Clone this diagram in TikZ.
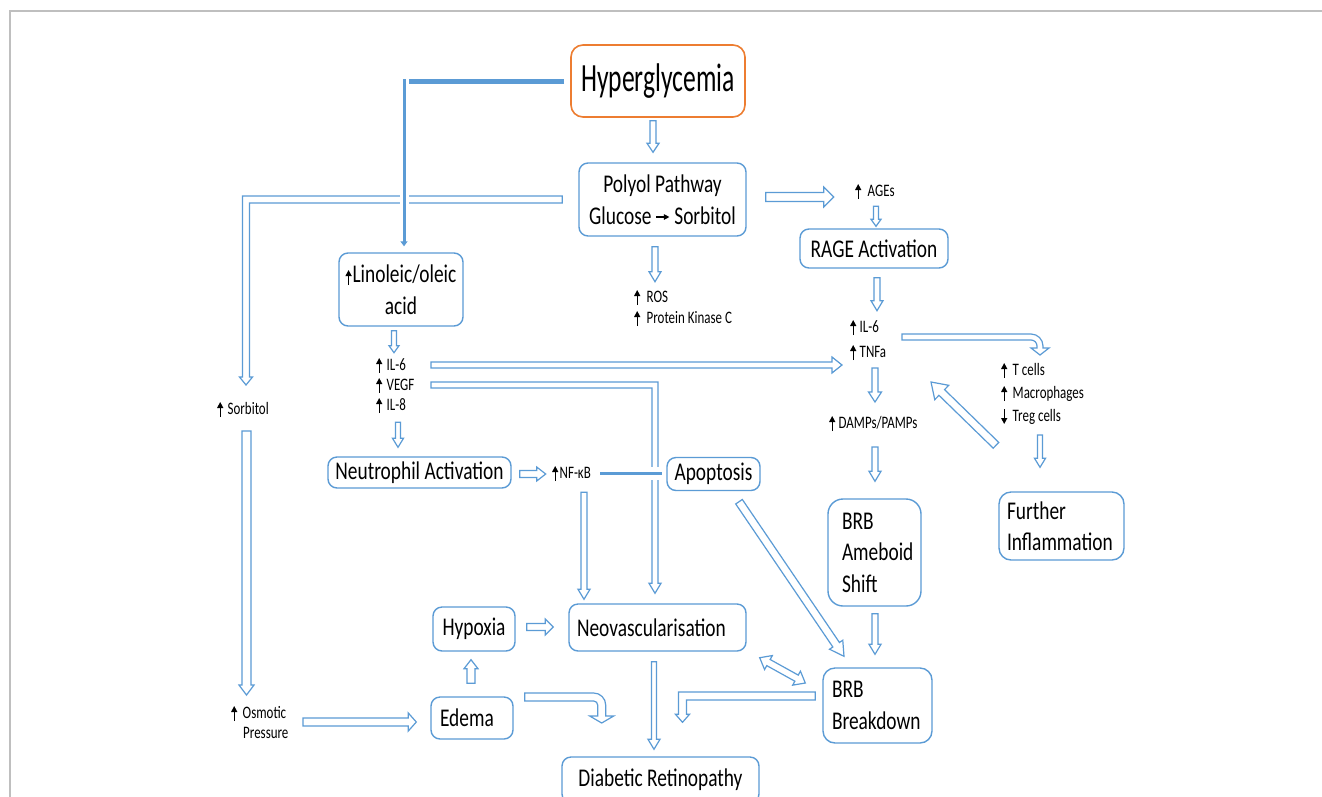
\documentclass[tikz,border=0pt]{standalone}
\usepackage{fontspec}
\setmainfont{Carlito}[FakeStretch=0.76]
\newfontfamily\hyfam{Carlito}[FakeStretch=0.64]
\newfontfamily\smfam{Carlito}[FakeStretch=0.74]
\usetikzlibrary{arrows.meta,calc}
\definecolor{bl}{HTML}{5B9BD5}
\definecolor{org}{HTML}{ED7D31}
\definecolor{frm}{HTML}{BFBFBF}
\hyphenpenalty=10000 \exhyphenpenalty=10000
\newcommand\bxf{\fontsize{25.5pt}{31.5pt}\selectfont}
\newcommand\smf{\smfam\fontsize{17.5pt}{20pt}\selectfont}
\newcommand\upar[1][5pt]{\tikz[baseline=0pt]{\path (-3pt,0pt) (3pt,0pt);\draw[draw=black,line width=1.3pt,-{Triangle[length=6pt,width=6pt]}] (0pt,-2.5pt)--(0pt,12.5pt);}\hspace{#1}}
\newcommand\dnar[1][5pt]{\tikz[baseline=0pt]{\path (-3pt,0pt) (3pt,0pt);\draw[draw=black,line width=1.3pt,-{Triangle[length=6pt,width=6pt]}] (0pt,12.5pt)--(0pt,-2.5pt);}\hspace{#1}}
\newcommand\rtar{\tikz[baseline=0pt]{\draw[draw=black,line width=1.1pt,-{Triangle[length=5.5pt,width=5.5pt]}] (0pt,7pt)--(13pt,7pt);}}
% straight block arrow: from, to, shaft half width, head half width, head length
\newcommand\barrow[5]{%
  \coordinate (bac) at ($(#2)!#5!(#1)$);
  \draw[blockarrow] ($(#1)!#3!90:(#2)$) -- ($(bac)!#3!-90:(#1)$) -- ($(bac)!#4!-90:(#1)$) -- (#2) -- ($(bac)!#4!90:(#1)$) -- ($(bac)!#3!90:(#1)$) -- ($(#1)!#3!-90:(#2)$) -- cycle;}
% double headed block arrow
\newcommand\dbarrow[5]{%
  \coordinate (dba) at ($(#1)!#5!(#2)$);
  \coordinate (dbb) at ($(#2)!#5!(#1)$);
  \draw[blockarrow] (#1) -- ($(dba)!#4!90:(#2)$) -- ($(dba)!#3!90:(#2)$) -- ($(dbb)!#3!-90:(#1)$) -- ($(dbb)!#4!-90:(#1)$) -- (#2) -- ($(dbb)!#4!90:(#1)$) -- ($(dbb)!#3!90:(#1)$) -- ($(dba)!#3!-90:(#2)$) -- ($(dba)!#4!-90:(#2)$) -- cycle;}
% bent block arrow: from, to, sx, sy, w, H, L (horizontal first, then vertical)
\newcommand\bentarrow[7]{%
  \draw[blockarrow] ($(#1)+(0,{-(#4)*(#5)})$) -- ($(#2|-#1)+({(#3)*(#5)},{-(#4)*(#5)})$) -- ($(#2)+({(#3)*(#5)},{-(#4)*(#7)})$) -- ($(#2)+({(#3)*(#6)},{-(#4)*(#7)})$) -- (#2) -- ($(#2)+({-(#3)*(#6)},{-(#4)*(#7)})$) -- ($(#2)+({-(#3)*(#5)},{-(#4)*(#7)})$) -- ($(#2|-#1)+({-(#3)*(#5)},{(#4)*(#5)})$) -- ($(#1)+(0,{(#4)*(#5)})$) -- cycle;}
\begin{document}
\begin{tikzpicture}[x=1pt,y=-1pt,
  rbox/.style={draw=bl, line width=1.4pt, rounded corners=9pt, fill=white, inner sep=0pt, font=\bxf},
  hbox/.style={draw=org, line width=1.6pt, rounded corners=12pt, fill=white, inner sep=0pt, minimum width=174pt, minimum height=72pt, font=\hyfam\fontsize{40pt}{44pt}\selectfont},
  txt/.style={inner sep=0pt, font=\smf, anchor=base west},
  blockarrow/.style={draw=bl, line width=1.2pt, fill=white, line join=miter},
  inhib/.style={draw=bl}]
\useasboundingbox (0,0) rectangle (1322,796);
\fill[white] (0,0) rectangle (1322,796);
\draw[frm, line width=1.5pt] (10,800) -- (10,11) -- (1325,11);

% boxes
\node[hbox] (hyper) at (658,81) {Hyperglycemia};
\node[rbox, minimum width=167pt, minimum height=73pt, align=center] (polyol) at (662.5,199.5) {Polyol Pathway\\Glucose \rtar{} Sorbitol};
\node[rbox, minimum width=148pt, minimum height=39pt] (rage) at (874,248.5) {RAGE Activation};
\node[rbox, minimum width=124pt, minimum height=73pt, align=center] (lino) at (401,289.5) {\upar[1pt]Linoleic/oleic\\acid};
\node[rbox, minimum width=183pt, minimum height=31pt] (neut) at (419.5,472.5) {Neutrophil Activation};
\node[rbox, minimum width=93pt, minimum height=33pt] (apop) at (713.5,474) {Apoptosis};
\node[rbox, rounded corners=15pt, minimum width=93pt, text width=65pt, inner xsep=14pt, minimum height=107pt, align=left] (brbam) at (874.5,552.5) {BRB\\Ameboid\\Shift};
\node[rbox, rounded corners=12pt, minimum width=125pt, text width=109pt, inner xsep=8pt, minimum height=68pt, align=left] (further) at (1061.5,526) {Further\\Inflammation};
\node[rbox, minimum width=82pt, minimum height=44pt] (hypoxia) at (474,629) {Hypoxia};
\node[rbox, minimum width=177pt, text width=161pt, inner xsep=8pt, minimum height=47pt, align=left] (neo) at (657.5,627.5) {Neovascularisation};
\node[rbox, minimum width=82pt, text width=64pt, inner xsep=9pt, minimum height=42pt, align=left] (edema) at (472,718) {Edema};
\node[rbox, rounded corners=12pt, minimum width=109pt, text width=91pt, inner xsep=9pt, minimum height=75pt, align=left] (brbbr) at (877.5,705.5) {BRB\\Breakdown};
\node[rbox, minimum width=197pt, minimum height=46pt] (dr) at (660.5,780) {Diabetic Retinopathy};

% small texts
\node[txt] (ros) at (634,302.5) {\upar[6.5pt]ROS};
\node[txt] (pkc) at (634,323.5) {\upar[6.5pt]Protein Kinase C};
\node[txt] (ages) at (855,196.5) {\upar[6.5pt]AGEs};
\node[txt] (il6r) at (850,332.5) {\upar[3.5pt]IL-6};
\node[txt] (tnf) at (850,357.5) {\upar[3.5pt]TNFa};
\node[txt] (tcell) at (1001,375.5) {\upar[5.5pt]T cells};
\node[txt] (macro) at (1001,398.5) {\upar[5.5pt]Macrophages};
\node[txt] (treg) at (1001,421.5) {\dnar[5.5pt]Treg cells};
\node[txt] (damps) at (829,428.5) {\upar[3.5pt]DAMPs/PAMPs};
\node[txt] (il6l) at (376,370.5) {\upar[4.5pt]IL-6};
\node[txt] (vegf) at (376,390.5) {\upar[4.5pt]VEGF};
\node[txt] (il8) at (376,410.5) {\upar[4.5pt]IL-8};
\node[txt] (nfkb) at (552,478.5) {\upar[1.5pt]NF-κB};
\node[txt] (sorb) at (217,414.5) {\upar[4.5pt]Sorbitol};
\node[txt] (osm) at (231,718.5) {\upar[5.5pt]Osmotic};
\node[txt] (press) at (243,738.5) {Pressure};

% connector end points
\coordinate (c1a) at ($(hyper.south)+(-5,3)$);
\coordinate (c1b) at ($(polyol.north)+(-9.5,-10)$);
\coordinate (c2a) at ($(polyol.south)+(-7.5,10)$);
\coordinate (c2b) at ($(polyol.south)+(-7.5,45)$);
\coordinate (c3a) at ($(polyol.east)+(19,-2.5)$);
\coordinate (c3b) at ($(polyol.east)+(87,-2.5)$);
\coordinate (c4a) at ($(rage.north)+(2,-22)$);
\coordinate (c4b) at ($(rage.north)+(2,-2)$);
\coordinate (c5a) at ($(rage.south)+(3,9)$);
\coordinate (c5b) at ($(rage.south)+(3,42)$);
\coordinate (c6a) at ($(lino.south)+(-7,4)$);
\coordinate (c6b) at ($(lino.south)+(-7,26)$);
\coordinate (c7a) at ($(neut.north)+(-21.5,-34)$);
\coordinate (c7b) at ($(neut.north)+(-21.5,-9)$);
\coordinate (c8a) at ($(neut.east)+(8,1.5)$);
\coordinate (c8b) at ($(neut.east)+(34,1.5)$);
\coordinate (c9a) at ($(neo.north)+(-73.5,-111)$);
\coordinate (c9b) at ($(neo.north)+(-73.5,-4)$);
\coordinate (c10a) at (431,365);
\coordinate (c10b) at (842,365);
\coordinate (v1) at (431,385);
\coordinate (v2) at ($(neo.north)+(-2.5,-10)$);
\coordinate (c12a) at (875,368);
\coordinate (c12b) at (875,402);
\coordinate (c13a) at (875,447);
\coordinate (c13b) at ($(brbam.north)+(0.5,-17)$);
\coordinate (c14) at (902,337);
\coordinate (c15a) at (1040,435);
\coordinate (c15b) at ($(further.north)+(-21.5,-24)$);
\coordinate (c16a) at ($(further.north)+(-65.5,-46)$);
\coordinate (c16b) at (931,382);
\coordinate (c17a) at ($(apop.south)+(25.5,10.5)$);
\coordinate (c17b) at ($(brbbr.north)+(-33.5,-11)$);
\coordinate (c18a) at ($(brbam.south)+(0.5,7)$);
\coordinate (c18b) at ($(brbbr.north)+(-2.5,-13)$);
\coordinate (c19a) at ($(neo.south east)+(13,6)$);
\coordinate (c19b) at ($(brbbr.west)+(-17,-22.5)$);
\coordinate (c20a) at ($(hypoxia.east)+(11,-2)$);
\coordinate (c20b) at ($(neo.west)+(-15,-0.5)$);
\coordinate (c21a) at ($(edema.north)+(-1,-13)$);
\coordinate (c21b) at ($(hypoxia.south)+(-3,8)$);
\coordinate (c22) at ($(edema.east)+(11,-21)$);
\coordinate (c23a) at ($(neo.south)+(-3.5,10)$);
\coordinate (c23b) at ($(dr.north)+(-6.5,-7)$);
\coordinate (b24a) at ($(brbbr.west)+(-7,-9.5)$);
\coordinate (b24b) at ($(dr.north)+(22,-34)$);
\coordinate (b25a) at ($(polyol.west)+(-16,0)$);
\coordinate (b25b) at (246,385);
\coordinate (c26a) at (246.5,431);
\coordinate (c26b) at (246.5,695);
\coordinate (c27a) at (303,722);
\coordinate (c27b) at ($(edema.west)+(-14,4)$);

% block arrows
\barrow{c1a}{c1b}{3pt}{6pt}{9pt}
\barrow{c2a}{c2b}{3pt}{6pt}{10pt}
\barrow{c3a}{c3b}{4.5pt}{10pt}{10pt}
\barrow{c4a}{c4b}{2.5pt}{5pt}{7pt}
\barrow{c5a}{c5b}{3pt}{6pt}{10pt}
\barrow{c6a}{c6b}{2.5pt}{5pt}{7pt}
\barrow{c7a}{c7b}{2.5pt}{5.5pt}{9pt}
\barrow{c8a}{c8b}{3.5pt}{7pt}{9pt}
\barrow{c9a}{c9b}{3pt}{6pt}{10pt}
\barrow{c10a}{c10b}{3pt}{8pt}{10pt}
\bentarrow{v1}{v2}{1}{1}{3}{6}{10}
\barrow{c12a}{c12b}{3pt}{6.5pt}{10pt}
\barrow{c13a}{c13b}{3pt}{6pt}{10pt}
\draw[blockarrow] ($(c14)+(0,-3)$) -- ++(129,0) arc[start angle=-90,end angle=0,radius=12] -- ++(0,2) -- ++(6,0) -- ++(-9,7) -- ++(-9,-7) -- ++(6,0) -- ++(0,-2) arc[start angle=0,end angle=-90,radius=6] -- ++(-129,0) -- cycle;
\barrow{c15a}{c15b}{2.5pt}{5.5pt}{9pt}
\barrow{c16a}{c16b}{4pt}{10pt}{15pt}
\barrow{c17a}{c17b}{4pt}{8pt}{14pt}
\barrow{c18a}{c18b}{3pt}{6pt}{10pt}
\dbarrow{c19a}{c19b}{3.5pt}{8pt}{10pt}
\barrow{c20a}{c20b}{3.5pt}{8pt}{8pt}
\barrow{c21a}{c21b}{4pt}{7pt}{9pt}
\draw[blockarrow] ($(c22)+(0,-4)$) -- ++(69,0) arc[start angle=-90,end angle=0,radius=12] -- ++(0,11) -- ++(8,0) -- ++(-12,7) -- ++(-12,-7) -- ++(8,0) -- ++(0,-11) arc[start angle=0,end angle=-90,radius=4] -- ++(-69,0) -- cycle;
\barrow{c23a}{c23b}{2.5pt}{6pt}{10pt}
\bentarrow{b24a}{b24b}{-1}{1}{4}{7}{8}
\bentarrow{b25a}{b25b}{-1}{1}{3.5}{6.5}{8}
\barrow{c26a}{c26b}{4.5pt}{7.5pt}{10pt}
\barrow{c27a}{c27b}{4pt}{9pt}{8pt}

% solid lines
\coordinate (hk) at (404,79);
\coordinate (hl) at (409,81.5);
\draw[white, line width=9pt] (404,189) -- (404,210);
\draw[inhib, line width=3pt, -{Triangle[length=5pt,width=7pt]}] (hk) -- ($(lino.north)+(3,-6)$);
\draw[inhib, line width=5pt] ($(hyper.west)+(-6,0.5)$) -- (hl);
\draw[white, line width=13pt] (646,473.5) -- (664,473.5);
\draw[inhib, line width=3.5pt] (600,473.5) -- ($(apop.west)+(-4,-0.5)$);
\end{tikzpicture}
\end{document}
